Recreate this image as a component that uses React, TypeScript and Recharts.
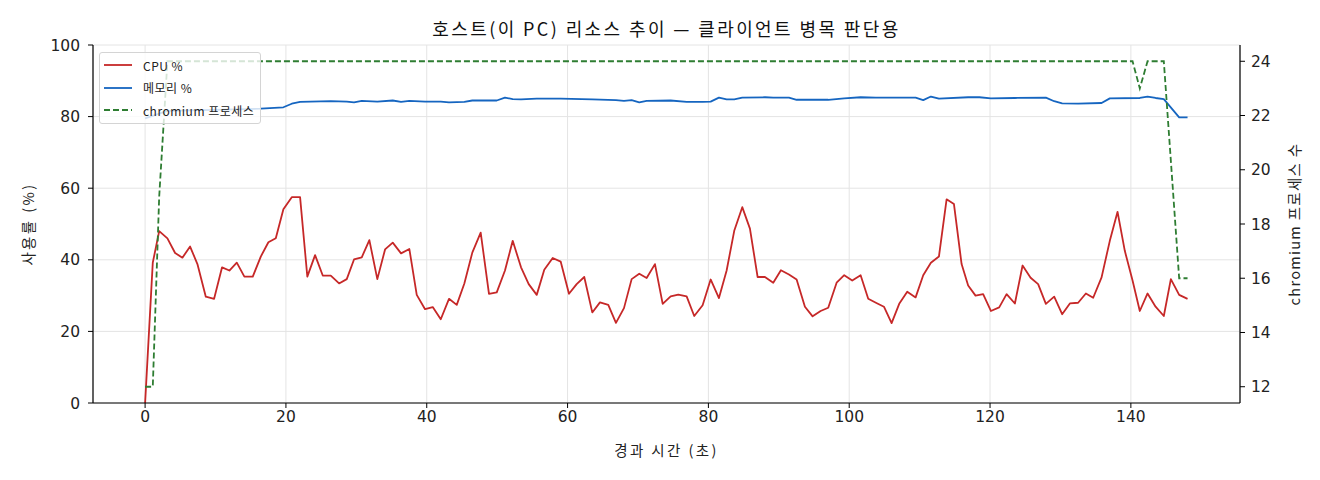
import React from "react";
import { LineChart, Line, XAxis, YAxis, CartesianGrid } from "recharts";

const FONT = '"Noto Sans CJK KR", "Noto Sans", sans-serif';
const TICK_FONT = '"DejaVu Sans", "Noto Sans", sans-serif';

const TITLE = "호스트(이 PC) 리소스 추이 — 클라이언트 병목 판단용";
const X_LABEL = "경과 시간 (초)";
const Y_LEFT_LABEL = "사용률 (%)";
const Y_RIGHT_LABEL = "chromium 프로세스 수";

const xTicks = [0, 20, 40, 60, 80, 100, 120, 140];
const leftTicks = [0, 20, 40, 60, 80, 100];
const rightTicks = [12, 14, 16, 18, 20, 22, 24];

const cpuTimes = [
  0, 1.09, 2.0, 3.17, 4.26, 5.3, 6.39, 7.43, 8.62, 9.8,
  10.93, 11.97, 13.02, 14.1, 15.29, 16.43, 17.51, 18.56, 19.64, 20.83,
  22.01, 23.04, 24.14, 25.23, 26.37, 27.55, 28.64, 29.67, 30.77, 31.85,
  32.98, 34.08, 35.17, 36.35, 37.53, 38.58, 39.76, 40.85, 41.99, 43.16,
  44.26, 45.34, 46.47, 47.66, 48.84, 49.94, 51.11, 52.21, 53.39, 54.48,
  55.62, 56.69, 57.89, 59.02, 60.2, 61.29, 62.37, 63.51, 64.6, 65.78,
  66.87, 68.01, 69.1, 70.18, 71.23, 72.41, 73.51, 74.64, 75.72, 76.91,
  77.99, 79.18, 80.32, 81.5, 82.59, 83.67, 84.81, 85.9, 86.99, 88.03,
  89.21, 90.3, 91.44, 92.53, 93.71, 94.8, 95.94, 97.02, 98.21, 99.29,
  100.43, 101.62, 102.7, 103.79, 104.93, 106.02, 107.1, 108.24, 109.43, 110.51,
  111.6, 112.74, 113.83, 114.87, 115.96, 116.89, 117.94, 119.02, 120.12, 121.3,
  122.35, 123.53, 124.62, 125.76, 126.83, 127.93, 129.11, 130.24, 131.34, 132.51,
  133.61, 134.65, 135.84, 137.01, 138.11, 139.14, 140.24, 141.27, 142.37, 143.51,
  144.68, 145.68, 146.86, 148.05,
];

const cpuValues = [
  0, 39.2, 48.0, 46.0, 41.9, 40.6, 43.7, 38.8, 29.7, 29.1,
  37.9, 37.0, 39.2, 35.3, 35.3, 40.9, 44.9, 46.0, 54.1, 57.5,
  57.5, 35.3, 41.3, 35.6, 35.6, 33.4, 34.6, 40.1, 40.7, 45.5,
  34.6, 42.9, 44.8, 41.8, 43.0, 30.2, 26.2, 26.8, 23.4, 29.1,
  27.4, 33.4, 42.0, 47.6, 30.5, 30.9, 37.0, 45.3, 37.9, 33.2,
  30.2, 37.2, 40.5, 39.5, 30.5, 33.2, 35.2, 25.3, 28.1, 27.4,
  22.4, 26.5, 34.6, 36.1, 34.9, 38.8, 27.7, 29.8, 30.3, 29.8,
  24.3, 27.3, 34.5, 29.3, 37.0, 48.1, 54.7, 48.7, 35.2, 35.2,
  33.6, 37.1, 35.9, 34.5, 26.9, 24.2, 25.7, 26.6, 33.6, 35.7,
  34.2, 35.7, 29.1, 28.0, 26.9, 22.3, 27.7, 31.1, 29.5, 35.7,
  39.2, 40.9, 56.9, 55.6, 38.8, 32.8, 30.0, 30.4, 25.7, 26.7,
  30.4, 27.8, 38.4, 35.0, 33.2, 27.7, 29.7, 24.8, 27.8, 28.0,
  30.6, 29.4, 35.1, 45.3, 53.4, 42.5, 34.2, 25.7, 30.6, 26.9,
  24.3, 34.6, 30.2, 29.1,
];

const memTimes = [
  0, 3.17, 9.8, 16.43, 19.64, 20.83, 22.01, 26.37, 28.64, 29.67,
  30.77, 32.98, 35.17, 36.35, 37.53, 39.76, 41.99, 43.16, 45.34, 46.47,
  49.94, 51.11, 52.21, 53.39, 55.62, 59.02, 63.51, 66.87, 68.01, 69.1,
  70.18, 71.23, 74.64, 76.91, 79.18, 80.32, 81.5, 82.59, 83.67, 84.81,
  88.03, 89.21, 91.44, 92.53, 97.02, 99.29, 101.62, 103.79, 109.43, 110.51,
  111.6, 112.74, 116.89, 118.5, 120.12, 123.53, 127.93, 129.11, 130.24, 132.51,
  135.84, 137.01, 141.27, 142.37, 143.51, 144.68, 146.86, 148.05,
];

const memValues = [
  79.5, 81.6, 81.9, 82.2, 82.6, 83.6, 84.1, 84.3, 84.2, 84.0,
  84.4, 84.2, 84.5, 84.1, 84.4, 84.2, 84.2, 84.0, 84.1, 84.5,
  84.5, 85.3, 84.9, 84.8, 85.0, 85.0, 84.8, 84.6, 84.4, 84.6,
  84.0, 84.4, 84.5, 84.1, 84.1, 84.2, 85.3, 84.8, 84.8, 85.3,
  85.4, 85.3, 85.3, 84.7, 84.7, 85.1, 85.4, 85.3, 85.3, 84.6,
  85.6, 85.0, 85.4, 85.4, 85.1, 85.2, 85.3, 84.3, 83.7, 83.6,
  83.8, 85.1, 85.2, 85.6, 85.2, 84.9, 79.8, 79.8,
];

const procTimes = [0, 1.09, 2.0, 3.17, 140.24, 141.27, 142.37, 144.68, 146.86, 148.05];
const procValues = [12, 12, 19, 24, 24, 23, 24, 24, 16, 16];

const seriesNames = ["CPU %", "메모리 %", "chromium 프로세스"];
const seriesColors = ["#c62828", "#1565c0", "#2e7d32"];

const cpuData = cpuTimes.map((t, i) => ({ t, v: cpuValues[i] }));
const memData = memTimes.map((t, i) => ({ t, v: memValues[i] }));
const procData = procTimes.map((t, i) => ({ t, v: procValues[i] }));

const tickStyle = { fontSize: 15.5, fill: "#222", fontFamily: TICK_FONT };

const LegendBox = () => (
  <div
    style={{
      position: "absolute",
      left: 99,
      top: 52,
      width: 162,
      height: 72,
      boxSizing: "border-box",
      border: "1px solid #d4d4d4",
      borderRadius: 3,
      background: "rgba(255,255,255,0.8)",
      fontFamily: FONT,
      fontSize: 12,
      letterSpacing: 0.5,
      color: "#222",
    }}
  >
    {seriesNames.map((name, i) => (
      <div
        key={name}
        style={{ position: "absolute", left: 3, top: 3 + i * 22.5, height: 18, display: "flex", alignItems: "center" }}
      >
        <svg width={30} height={18} style={{ display: "block" }}>
          <line
            x1={1}
            x2={29}
            y1={9}
            y2={9}
            stroke={seriesColors[i]}
            strokeWidth={1.8}
            strokeDasharray={i === 2 ? "6 3" : undefined}
          />
        </svg>
        <span style={{ marginLeft: 10, whiteSpace: "nowrap" }}>{name}</span>
      </div>
    ))}
  </div>
);

const RotLabel = ({ x, text, spacing }: { x: number; text: string; spacing: number }) => (
  <div style={{ position: "absolute", left: x, top: 224, width: 0, height: 0 }}>
    <div
      style={{
        position: "absolute",
        transform: "translate(-50%, -50%) rotate(-90deg)",
        whiteSpace: "nowrap",
        fontFamily: FONT,
        fontSize: 14.5,
        letterSpacing: spacing,
        color: "#222",
      }}
    >
      {text}
    </div>
  </div>
);

export default function App() {
  return (
    <div style={{ position: "absolute", left: 0, top: 0, width: 1320, height: 480, background: "#fff" }}>
      <LineChart width={1320} height={480} margin={{ top: 45, right: 40, bottom: 47, left: 33 }}>
        <CartesianGrid stroke="#e4e4e4" strokeWidth={1} />
        <XAxis
          dataKey="t"
          type="number"
          domain={[-7.4, 155.5]}
          allowDataOverflow
          ticks={xTicks}
          height={30}
          tick={tickStyle}
          tickSize={5}
          tickMargin={3}
          axisLine={{ stroke: "#000", strokeWidth: 1.2 }}
          tickLine={{ stroke: "#000" }}
        />
        <XAxis
          xAxisId="top"
          orientation="top"
          dataKey="t"
          type="number"
          domain={[-7.4, 155.5]}
          allowDataOverflow
          height={0}
          tick={false}
          tickLine={false}
          axisLine={{ stroke: "#000", strokeWidth: 1.2 }}
        />
        <YAxis
          type="number"
          domain={[0, 100]}
          allowDataOverflow
          ticks={leftTicks}
          width={60}
          tick={tickStyle}
          tickSize={5}
          tickMargin={8}
          axisLine={{ stroke: "#000", strokeWidth: 1.2 }}
          tickLine={{ stroke: "#000" }}
        />
        <YAxis
          yAxisId="right"
          orientation="right"
          type="number"
          domain={[11.4, 24.6]}
          allowDataOverflow
          ticks={rightTicks}
          width={40}
          tick={tickStyle}
          tickSize={5}
          tickMargin={6}
          axisLine={{ stroke: "#000", strokeWidth: 1.2 }}
          tickLine={{ stroke: "#000" }}
        />
        <Line
          data={cpuData}
          dataKey="v"
          name={seriesNames[0]}
          stroke={seriesColors[0]}
          strokeWidth={1.8}
          dot={false}
          activeDot={false}
          isAnimationActive={false}
          strokeLinejoin="round"
        />
        <Line
          data={memData}
          dataKey="v"
          name={seriesNames[1]}
          stroke={seriesColors[1]}
          strokeWidth={1.8}
          dot={false}
          activeDot={false}
          isAnimationActive={false}
          strokeLinejoin="round"
        />
        <Line
          yAxisId="right"
          data={procData}
          dataKey="v"
          name={seriesNames[2]}
          stroke={seriesColors[2]}
          strokeWidth={1.8}
          strokeDasharray="6 3"
          dot={false}
          activeDot={false}
          isAnimationActive={false}
        />
      </LineChart>
      <div
        style={{
          position: "absolute",
          left: 93,
          width: 1147,
          top: 14,
          textAlign: "center",
          fontFamily: FONT,
          fontSize: 18,
          letterSpacing: 2.4,
          color: "#111",
          lineHeight: "28px",
        }}
      >
        {TITLE}
      </div>
      <div
        style={{
          position: "absolute",
          left: 93,
          width: 1147,
          top: 438,
          textAlign: "center",
          fontFamily: FONT,
          fontSize: 14.5,
          letterSpacing: 2.4,
          color: "#222",
          lineHeight: "24px",
        }}
      >
        {X_LABEL}
      </div>
      <RotLabel x={27} text={Y_LEFT_LABEL} spacing={2.4} />
      <RotLabel x={1293} text={Y_RIGHT_LABEL} spacing={1.3} />
      <LegendBox />
    </div>
  );
}
